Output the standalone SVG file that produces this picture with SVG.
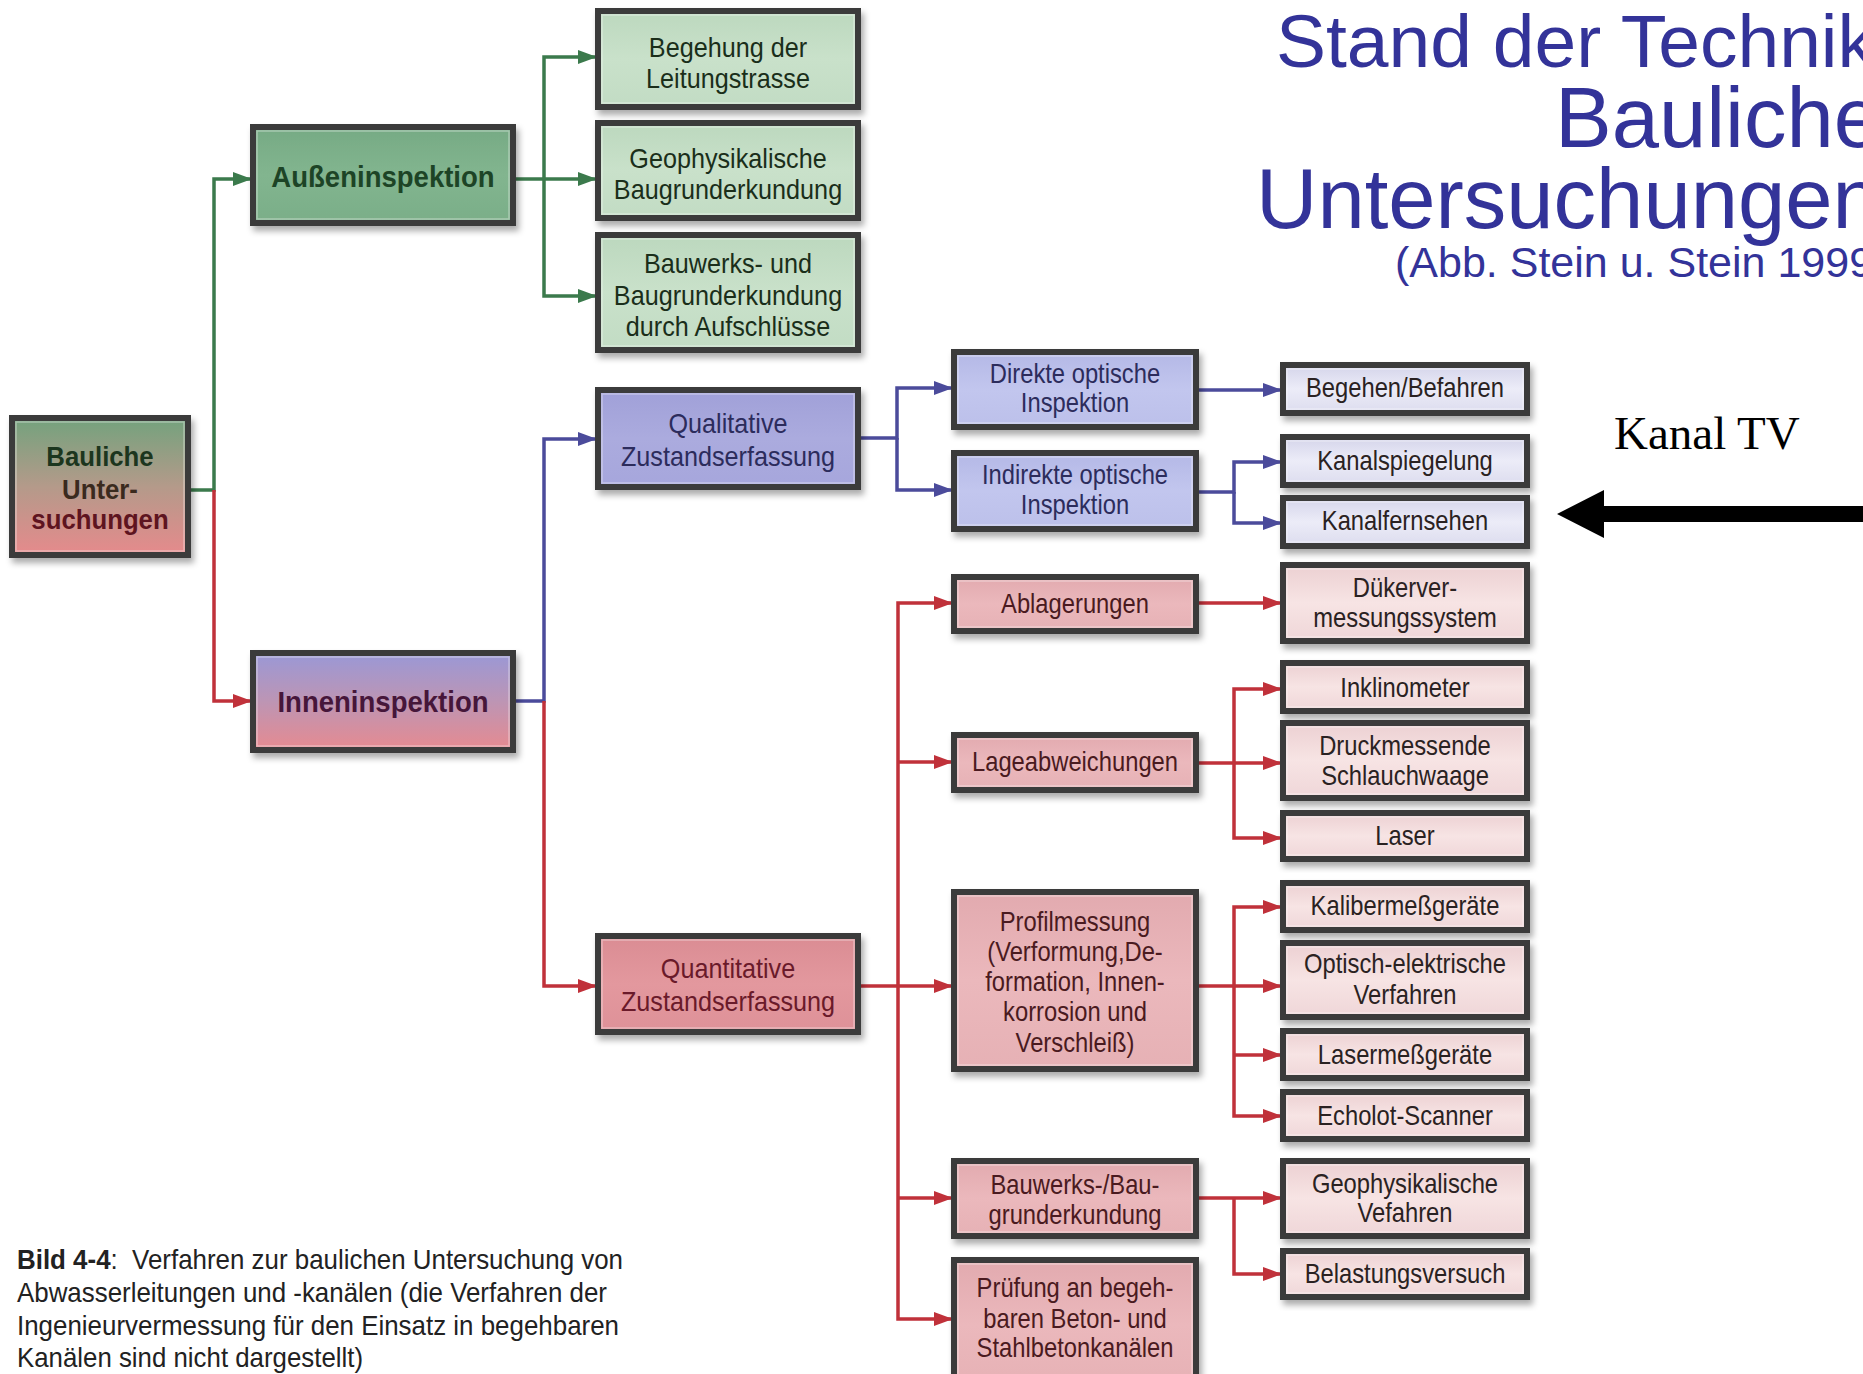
<svg xmlns="http://www.w3.org/2000/svg" width="1863" height="1374" viewBox="0 0 1863 1374">
<style>
.t{font-family:"Liberation Sans",Arial,sans-serif;text-anchor:middle}
.s2{font-size:28px}
.s3{font-size:27px}
.sb{font-size:29px;font-weight:bold}
.tg{fill:#1a2e1a}
.tb{fill:#2c2c5c}
.tr{fill:#4a1a20}
.tk{fill:#2a2222}
.c{fill:none;stroke-width:3.5;stroke-linejoin:miter}
.cg{stroke:#3b7a4c}
.cb{stroke:#4b4b9b}
.cr{stroke:#c0313a}
.bx{stroke:#3a3a3a;stroke-width:6;filter:url(#sh)}
.hl{fill:none;stroke:#ffffff;stroke-opacity:.35;stroke-width:1.5}
.ttl{font-family:"Liberation Sans",Arial,sans-serif;fill:#333399}
.cap{font-family:"Liberation Sans",Arial,sans-serif;font-size:28px;fill:#222222}
</style>
<defs>
<filter id="sh" x="-10%" y="-10%" width="125%" height="140%">
<feDropShadow dx="3" dy="5" stdDeviation="3" flood-color="#000" flood-opacity="0.33"/>
</filter>
<linearGradient id="gRoot" x1="0" y1="0" x2="0" y2="1"><stop offset="0" stop-color="#73a27d"/><stop offset="0.5" stop-color="#b49a8a"/><stop offset="1" stop-color="#e68a8c"/></linearGradient>
<linearGradient id="gIn" x1="0" y1="0" x2="0" y2="1"><stop offset="0" stop-color="#9a98d6"/><stop offset="0.5" stop-color="#bd95b4"/><stop offset="1" stop-color="#e68a90"/></linearGradient>
<linearGradient id="gG1" x1="0" y1="0" x2="0" y2="1"><stop offset="0" stop-color="#76aa84"/><stop offset="0.5" stop-color="#82b58f"/><stop offset="1" stop-color="#7aae88"/></linearGradient>
<linearGradient id="gG2" x1="0" y1="0" x2="0" y2="1"><stop offset="0" stop-color="#bcd8be"/><stop offset="0.5" stop-color="#c9e1ca"/><stop offset="1" stop-color="#c2dcc4"/></linearGradient>
<linearGradient id="gB1" x1="0" y1="0" x2="0" y2="1"><stop offset="0" stop-color="#a0a0d8"/><stop offset="0.5" stop-color="#ababde"/><stop offset="1" stop-color="#a6a6dc"/></linearGradient>
<linearGradient id="gB2" x1="0" y1="0" x2="0" y2="1"><stop offset="0" stop-color="#b4b8e6"/><stop offset="0.5" stop-color="#c2c6ee"/><stop offset="1" stop-color="#bcc0ea"/></linearGradient>
<linearGradient id="gB3" x1="0" y1="0" x2="0" y2="1"><stop offset="0" stop-color="#d4d4ea"/><stop offset="0.5" stop-color="#ececf8"/><stop offset="1" stop-color="#dcdcee"/></linearGradient>
<linearGradient id="gR1" x1="0" y1="0" x2="0" y2="1"><stop offset="0" stop-color="#da8c93"/><stop offset="0.5" stop-color="#e3989e"/><stop offset="1" stop-color="#de9198"/></linearGradient>
<linearGradient id="gR2" x1="0" y1="0" x2="0" y2="1"><stop offset="0" stop-color="#e2aaaf"/><stop offset="0.5" stop-color="#ebb8bc"/><stop offset="1" stop-color="#e6b1b5"/></linearGradient>
<linearGradient id="gR3" x1="0" y1="0" x2="0" y2="1"><stop offset="0" stop-color="#ecd0d2"/><stop offset="0.5" stop-color="#f7e4e4"/><stop offset="1" stop-color="#efd6d8"/></linearGradient>
<marker id="ag" markerUnits="userSpaceOnUse" markerWidth="20" markerHeight="14" refX="19" refY="7" orient="auto"><path d="M0,0 L19,7 L0,14 z" fill="#3b7a4c"/></marker>
<marker id="ab" markerUnits="userSpaceOnUse" markerWidth="20" markerHeight="14" refX="19" refY="7" orient="auto"><path d="M0,0 L19,7 L0,14 z" fill="#4b4b9b"/></marker>
<marker id="ar" markerUnits="userSpaceOnUse" markerWidth="20" markerHeight="14" refX="19" refY="7" orient="auto"><path d="M0,0 L19,7 L0,14 z" fill="#c0313a"/></marker>
</defs>
<rect x="0" y="0" width="1863" height="1374" fill="#ffffff"/>

<g id="title">
<text class="ttl" x="1276" y="67" font-size="75">Stand der Technik</text>
<text class="ttl" x="1555" y="147" font-size="85">Bauliche</text>
<text class="ttl" x="1256" y="228" font-size="85">Untersuchungen</text>
<text class="ttl" x="1395" y="277" font-size="43">(Abb. Stein u. Stein 1999)</text>
</g>

<g id="kanal-tv">
<text x="1614" y="449" font-family="'Liberation Serif','Times New Roman',serif" font-size="47" fill="#000">Kanal TV</text>
<polygon points="1557,514 1604,490 1604,506 1863,506 1863,522 1604,522 1604,538" fill="#000"/>
</g>

<g id="connectors">
<path class="c cg" d="M188 490 H214 V179 H252" marker-end="url(#ag)"/>
<path class="c cr" d="M214 490 V701 H252" marker-end="url(#ar)"/>
<path class="c cg" d="M513 179 H597" marker-end="url(#ag)"/>
<path class="c cg" d="M544 179 V57 H597" marker-end="url(#ag)"/>
<path class="c cg" d="M544 179 V296 H597" marker-end="url(#ag)"/>
<path class="c cb" d="M513 701 H544 V439 H597" marker-end="url(#ab)"/>
<path class="c cr" d="M544 701 V986 H597" marker-end="url(#ar)"/>
<path class="c cb" d="M858 438 H897 V388 H953" marker-end="url(#ab)"/>
<path class="c cb" d="M897 438 V490 H953" marker-end="url(#ab)"/>
<path class="c cb" d="M1196 390 H1282" marker-end="url(#ab)"/>
<path class="c cb" d="M1196 492 H1234 V462 H1282" marker-end="url(#ab)"/>
<path class="c cb" d="M1234 492 V523 H1282" marker-end="url(#ab)"/>
<path class="c cr" d="M858 986 H953" marker-end="url(#ar)"/>
<path class="c cr" d="M898 986 V603 H953" marker-end="url(#ar)"/>
<path class="c cr" d="M898 762 H953" marker-end="url(#ar)"/>
<path class="c cr" d="M898 986 V1319 H953" marker-end="url(#ar)"/>
<path class="c cr" d="M898 1198 H953" marker-end="url(#ar)"/>
<path class="c cr" d="M1196 603 H1282" marker-end="url(#ar)"/>
<path class="c cr" d="M1196 763 H1282" marker-end="url(#ar)"/>
<path class="c cr" d="M1234 763 V689 H1282" marker-end="url(#ar)"/>
<path class="c cr" d="M1234 763 V838 H1282" marker-end="url(#ar)"/>
<path class="c cr" d="M1196 986 H1282" marker-end="url(#ar)"/>
<path class="c cr" d="M1234 986 V907 H1282" marker-end="url(#ar)"/>
<path class="c cr" d="M1234 986 V1116 H1282" marker-end="url(#ar)"/>
<path class="c cr" d="M1234 1055 H1282" marker-end="url(#ar)"/>
<path class="c cr" d="M1196 1198 H1282" marker-end="url(#ar)"/>
<path class="c cr" d="M1234 1198 V1274 H1282" marker-end="url(#ar)"/>
</g>

<g id="n-bauliche">
<rect class="bx" x="12" y="418" width="176" height="137" fill="url(#gRoot)"/>
<rect class="hl" x="16" y="422" width="168" height="129"/>
<text class="t" font-size="28" font-weight="bold" transform="translate(100 466) scale(.92 1)"><tspan x="0" fill="#1c361e">Bauliche</tspan><tspan x="0" y="33" fill="#3a2a1e">Unter-</tspan><tspan x="0" y="63" fill="#5e1420">suchungen</tspan></text>
</g>

<g id="n-aussen">
<rect class="bx" x="253" y="127" width="260" height="96" fill="url(#gG1)"/>
<rect class="hl" x="257" y="131" width="252" height="88"/>
<text class="t sb" fill="#1d4426" transform="translate(383 187) scale(.95 1)">Außeninspektion</text>
</g>

<g id="n-innen">
<rect class="bx" x="253" y="653" width="260" height="97" fill="url(#gIn)"/>
<rect class="hl" x="257" y="657" width="252" height="89"/>
<text class="t sb" fill="#46163a" transform="translate(383 712) scale(.95 1)">Inneninspektion</text>
</g>

<g id="n-begehung">
<rect class="bx" x="598" y="11" width="260" height="96" fill="url(#gG2)"/>
<rect class="hl" x="602" y="15" width="252" height="88"/>
<text class="t s2 tg" transform="translate(728 57) scale(.9 1)"><tspan x="0">Begehung der</tspan><tspan x="0" y="31">Leitungstrasse</tspan></text>
</g>

<g id="n-geophys1">
<rect class="bx" x="598" y="123" width="260" height="95" fill="url(#gG2)"/>
<rect class="hl" x="602" y="127" width="252" height="87"/>
<text class="t s2 tg" transform="translate(728 168) scale(.9 1)"><tspan x="0">Geophysikalische</tspan><tspan x="0" y="31">Baugrunderkundung</tspan></text>
</g>

<g id="n-bauwerks1">
<rect class="bx" x="598" y="235" width="260" height="115" fill="url(#gG2)"/>
<rect class="hl" x="602" y="239" width="252" height="107"/>
<text class="t s2 tg" transform="translate(728 273) scale(.9 1)"><tspan x="0">Bauwerks- und</tspan><tspan x="0" y="32">Baugrunderkundung</tspan><tspan x="0" y="63">durch Aufschlüsse</tspan></text>
</g>

<g id="n-qualitativ">
<rect class="bx" x="598" y="390" width="260" height="97" fill="url(#gB1)"/>
<rect class="hl" x="602" y="394" width="252" height="89"/>
<text class="t s2 tb" transform="translate(728 433) scale(.9 1)"><tspan x="0">Qualitative</tspan><tspan x="0" y="33">Zustandserfassung</tspan></text>
</g>

<g id="n-quantitativ">
<rect class="bx" x="598" y="936" width="260" height="96" fill="url(#gR1)"/>
<rect class="hl" x="602" y="940" width="252" height="88"/>
<text class="t s2" fill="#6a1a2a" transform="translate(728 978) scale(.9 1)"><tspan x="0">Quantitative</tspan><tspan x="0" y="33">Zustandserfassung</tspan></text>
</g>

<g id="n-direkt">
<rect class="bx" x="954" y="352" width="242" height="75" fill="url(#gB2)"/>
<rect class="hl" x="958" y="356" width="234" height="67"/>
<text class="t s3 tb" transform="translate(1075 383) scale(.88 1)"><tspan x="0">Direkte optische</tspan><tspan x="0" y="29">Inspektion</tspan></text>
</g>

<g id="n-indirekt">
<rect class="bx" x="954" y="453" width="242" height="76" fill="url(#gB2)"/>
<rect class="hl" x="958" y="457" width="234" height="68"/>
<text class="t s3 tb" transform="translate(1075 484) scale(.88 1)"><tspan x="0">Indirekte optische</tspan><tspan x="0" y="30">Inspektion</tspan></text>
</g>

<g id="n-ablagerungen">
<rect class="bx" x="954" y="577" width="242" height="54" fill="url(#gR2)"/>
<rect class="hl" x="958" y="581" width="234" height="46"/>
<text class="t s3 tr" transform="translate(1075 613) scale(.88 1)">Ablagerungen</text>
</g>

<g id="n-lage">
<rect class="bx" x="954" y="735" width="242" height="55" fill="url(#gR2)"/>
<rect class="hl" x="958" y="739" width="234" height="47"/>
<text class="t s3 tr" transform="translate(1075 771) scale(.88 1)">Lageabweichungen</text>
</g>

<g id="n-profil">
<rect class="bx" x="954" y="892" width="242" height="177" fill="url(#gR2)"/>
<rect class="hl" x="958" y="896" width="234" height="169"/>
<text class="t s3 tr" transform="translate(1075 931) scale(.88 1)"><tspan x="0">Profilmessung</tspan><tspan x="0" y="30">(Verformung,De-</tspan><tspan x="0" y="60">formation, Innen-</tspan><tspan x="0" y="90">korrosion und</tspan><tspan x="0" y="121">Verschleiß)</tspan></text>
</g>

<g id="n-bauwerks2">
<rect class="bx" x="954" y="1161" width="242" height="75" fill="url(#gR2)"/>
<rect class="hl" x="958" y="1165" width="234" height="67"/>
<text class="t s3 tr" transform="translate(1075 1194) scale(.88 1)"><tspan x="0">Bauwerks-/Bau-</tspan><tspan x="0" y="30">grunderkundung</tspan></text>
</g>

<g id="n-pruefung">
<rect class="bx" x="954" y="1260" width="242" height="130" fill="url(#gR2)"/>
<rect class="hl" x="958" y="1264" width="234" height="122"/>
<text class="t s3 tr" transform="translate(1075 1297) scale(.88 1)"><tspan x="0">Prüfung an begeh-</tspan><tspan x="0" y="31">baren Beton- und</tspan><tspan x="0" y="60">Stahlbetonkanälen</tspan></text>
</g>

<g id="n-begehen">
<rect class="bx" x="1283" y="365" width="244" height="48" fill="url(#gB3)"/>
<rect class="hl" x="1287" y="369" width="236" height="40"/>
<text class="t s3 tk" transform="translate(1405 397) scale(.88 1)">Begehen/Befahren</text>
</g>

<g id="n-kanalspiegelung">
<rect class="bx" x="1283" y="437" width="244" height="48" fill="url(#gB3)"/>
<rect class="hl" x="1287" y="441" width="236" height="40"/>
<text class="t s3 tk" transform="translate(1405 470) scale(.88 1)">Kanalspiegelung</text>
</g>

<g id="n-kanalfernsehen">
<rect class="bx" x="1283" y="498" width="244" height="48" fill="url(#gB3)"/>
<rect class="hl" x="1287" y="502" width="236" height="40"/>
<text class="t s3 tk" transform="translate(1405 530) scale(.88 1)">Kanalfernsehen</text>
</g>

<g id="n-dueker">
<rect class="bx" x="1283" y="565" width="244" height="76" fill="url(#gR3)"/>
<rect class="hl" x="1287" y="569" width="236" height="68"/>
<text class="t s3 tk" transform="translate(1405 597) scale(.88 1)"><tspan x="0">Dükerver-</tspan><tspan x="0" y="30">messungssystem</tspan></text>
</g>

<g id="n-inklinometer">
<rect class="bx" x="1283" y="663" width="244" height="48" fill="url(#gR3)"/>
<rect class="hl" x="1287" y="667" width="236" height="40"/>
<text class="t s3 tk" transform="translate(1405 697) scale(.88 1)">Inklinometer</text>
</g>

<g id="n-druck">
<rect class="bx" x="1283" y="723" width="244" height="75" fill="url(#gR3)"/>
<rect class="hl" x="1287" y="727" width="236" height="67"/>
<text class="t s3 tk" transform="translate(1405 755) scale(.88 1)"><tspan x="0">Druckmessende</tspan><tspan x="0" y="30">Schlauchwaage</tspan></text>
</g>

<g id="n-laser">
<rect class="bx" x="1283" y="813" width="244" height="46" fill="url(#gR3)"/>
<rect class="hl" x="1287" y="817" width="236" height="38"/>
<text class="t s3 tk" transform="translate(1405 845) scale(.88 1)">Laser</text>
</g>

<g id="n-kaliber">
<rect class="bx" x="1283" y="883" width="244" height="47" fill="url(#gR3)"/>
<rect class="hl" x="1287" y="887" width="236" height="39"/>
<text class="t s3 tk" transform="translate(1405 915) scale(.88 1)">Kalibermeßgeräte</text>
</g>

<g id="n-optisch">
<rect class="bx" x="1283" y="943" width="244" height="74" fill="url(#gR3)"/>
<rect class="hl" x="1287" y="947" width="236" height="66"/>
<text class="t s3 tk" transform="translate(1405 973) scale(.88 1)"><tspan x="0">Optisch-elektrische</tspan><tspan x="0" y="31">Verfahren</tspan></text>
</g>

<g id="n-lasermess">
<rect class="bx" x="1283" y="1031" width="244" height="47" fill="url(#gR3)"/>
<rect class="hl" x="1287" y="1035" width="236" height="39"/>
<text class="t s3 tk" transform="translate(1405 1064) scale(.88 1)">Lasermeßgeräte</text>
</g>

<g id="n-echolot">
<rect class="bx" x="1283" y="1092" width="244" height="47" fill="url(#gR3)"/>
<rect class="hl" x="1287" y="1096" width="236" height="39"/>
<text class="t s3 tk" transform="translate(1405 1125) scale(.88 1)">Echolot-Scanner</text>
</g>

<g id="n-geophys2">
<rect class="bx" x="1283" y="1161" width="244" height="75" fill="url(#gR3)"/>
<rect class="hl" x="1287" y="1165" width="236" height="67"/>
<text class="t s3 tk" transform="translate(1405 1193) scale(.88 1)"><tspan x="0">Geophysikalische</tspan><tspan x="0" y="29">Vefahren</tspan></text>
</g>

<g id="n-belastung">
<rect class="bx" x="1283" y="1251" width="244" height="46" fill="url(#gR3)"/>
<rect class="hl" x="1287" y="1255" width="236" height="38"/>
<text class="t s3 tk" transform="translate(1405 1283) scale(.88 1)">Belastungsversuch</text>
</g>

<g id="caption">
<text class="cap" x="17" y="1269" textLength="606" lengthAdjust="spacingAndGlyphs" xml:space="preserve"><tspan font-weight="bold">Bild 4-4</tspan>:  Verfahren zur baulichen Untersuchung von</text>
<text class="cap" x="17" y="1302" textLength="590" lengthAdjust="spacingAndGlyphs">Abwasserleitungen und -kanälen (die Verfahren der</text>
<text class="cap" x="17" y="1335" textLength="602" lengthAdjust="spacingAndGlyphs">Ingenieurvermessung für den Einsatz in begehbaren</text>
<text class="cap" x="17" y="1367" textLength="346" lengthAdjust="spacingAndGlyphs">Kanälen sind nicht dargestellt)</text>
</g>
</svg>
